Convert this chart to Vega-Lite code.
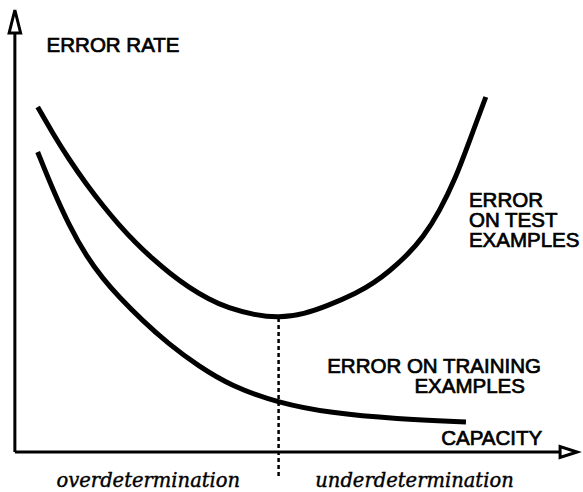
{
  "$schema": "https://vega.github.io/schema/vega-lite/v6.json",
  "width": 583,
  "height": 492,
  "padding": 0,
  "autosize": {"type": "fit", "contains": "padding"},
  "background": "white",
  "config": {"view": {"stroke": null}},
  "datasets": {
    "test": [
      {"cap": 23, "err": 345}, {"cap": 38, "err": 319}, {"cap": 55, "err": 292}, {"cap": 72, "err": 268},
      {"cap": 89, "err": 246}, {"cap": 105, "err": 227}, {"cap": 122, "err": 209}, {"cap": 138, "err": 194},
      {"cap": 157, "err": 178}, {"cap": 175, "err": 165}, {"cap": 195, "err": 153}, {"cap": 215, "err": 144},
      {"cap": 242, "err": 137}, {"cap": 266, "err": 134}, {"cap": 292, "err": 138}, {"cap": 315, "err": 146},
      {"cap": 345, "err": 159}, {"cap": 362, "err": 169}, {"cap": 378, "err": 181}, {"cap": 395, "err": 196},
      {"cap": 412, "err": 215}, {"cap": 428, "err": 240}, {"cap": 445, "err": 275}, {"cap": 457, "err": 307},
      {"cap": 475, "err": 355}
    ],
    "train": [
      {"cap": 23, "err": 300}, {"cap": 38, "err": 263}, {"cap": 55, "err": 226}, {"cap": 72, "err": 196},
      {"cap": 89, "err": 173}, {"cap": 105, "err": 155}, {"cap": 128, "err": 132}, {"cap": 155, "err": 108},
      {"cap": 185, "err": 86}, {"cap": 218, "err": 66}, {"cap": 266, "err": 49}, {"cap": 318, "err": 39},
      {"cap": 385, "err": 33}, {"cap": 455, "err": 30}
    ],
    "axes": [
      {"cap": 0, "err": 0, "cap2": 0, "err2": 421},
      {"cap": 0, "err": 0, "cap2": 552, "err2": 0}
    ],
    "divider": [{"cap": 266, "err": 134, "err2": -26}],
    "yarrow": [{"cap": 0, "err": 430.5}],
    "xarrow": [{"cap": 558.5, "err": 0}],
    "labels": [
      {"label": "ERROR RATE", "cap": 32, "err": 400},
      {"label": "ERROR", "cap": 458, "err": 245},
      {"label": "ON TEST", "cap": 458, "err": 225},
      {"label": "EXAMPLES", "cap": 458, "err": 205},
      {"label": "ERROR ON TRAINING", "cap": 315, "err": 79},
      {"label": "EXAMPLES", "cap": 403, "err": 59},
      {"label": "CAPACITY", "cap": 430, "err": 7}
    ],
    "regimes": [
      {"label": "overdetermination", "cap": 42, "err": -35},
      {"label": "underdetermination", "cap": 303, "err": -35}
    ]
  },
  "layer": [
    {
      "data": {"name": "axes"},
      "mark": {"type": "rule", "color": "black", "strokeWidth": 3},
      "encoding": {
        "x": {"field": "cap", "type": "quantitative", "scale": {"domain": [-15, 568], "nice": false, "zero": false}, "axis": null},
        "y": {"field": "err", "type": "quantitative", "scale": {"domain": [-40, 452], "nice": false, "zero": false}, "axis": null},
        "x2": {"field": "cap2"},
        "y2": {"field": "err2"}
      }
    },
    {
      "data": {"name": "yarrow"},
      "mark": {"type": "point", "shape": "M0,-1L0.5,1L-0.5,1Z", "size": 529, "filled": true, "fill": "white", "stroke": "black", "strokeWidth": 3, "opacity": 1},
      "encoding": {
        "x": {"field": "cap", "type": "quantitative"},
        "y": {"field": "err", "type": "quantitative"}
      }
    },
    {
      "data": {"name": "xarrow"},
      "mark": {"type": "point", "shape": "M0,-1L0.65,1L-0.65,1Z", "size": 289, "angle": 90, "filled": true, "fill": "white", "stroke": "black", "strokeWidth": 3, "opacity": 1},
      "encoding": {
        "x": {"field": "cap", "type": "quantitative"},
        "y": {"field": "err", "type": "quantitative"}
      }
    },
    {
      "data": {"name": "divider"},
      "mark": {"type": "rule", "color": "black", "strokeWidth": 2.5, "strokeDash": [4, 3]},
      "encoding": {
        "x": {"field": "cap", "type": "quantitative"},
        "y": {"field": "err", "type": "quantitative"},
        "y2": {"field": "err2"}
      }
    },
    {
      "data": {"name": "test"},
      "mark": {"type": "line", "color": "black", "strokeWidth": 5, "interpolate": "basis", "strokeCap": "butt"},
      "encoding": {
        "x": {"field": "cap", "type": "quantitative"},
        "y": {"field": "err", "type": "quantitative"}
      }
    },
    {
      "data": {"name": "train"},
      "mark": {"type": "line", "color": "black", "strokeWidth": 5, "interpolate": "basis", "strokeCap": "butt"},
      "encoding": {
        "x": {"field": "cap", "type": "quantitative"},
        "y": {"field": "err", "type": "quantitative"}
      }
    },
    {
      "data": {"name": "labels"},
      "mark": {"type": "text", "align": "left", "baseline": "alphabetic", "font": "Liberation Sans", "fontSize": 20.5, "fill": "black", "stroke": "black", "strokeWidth": 0.7},
      "encoding": {
        "x": {"field": "cap", "type": "quantitative"},
        "y": {"field": "err", "type": "quantitative"},
        "text": {"field": "label"}
      }
    },
    {
      "data": {"name": "regimes"},
      "mark": {"type": "text", "align": "left", "baseline": "alphabetic", "font": "DejaVu Serif", "fontStyle": "italic", "fontSize": 19.5, "fill": "black", "stroke": "black", "strokeWidth": 0.4},
      "encoding": {
        "x": {"field": "cap", "type": "quantitative"},
        "y": {"field": "err", "type": "quantitative"},
        "text": {"field": "label"}
      }
    }
  ]
}
